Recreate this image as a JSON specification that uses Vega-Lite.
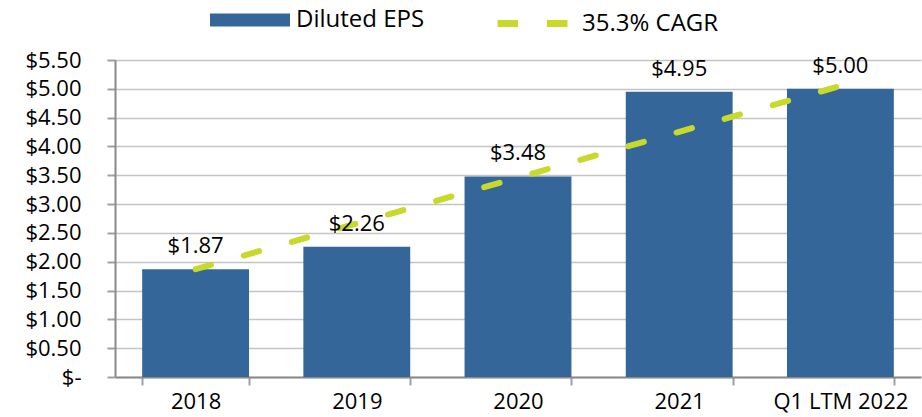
{
  "$schema": "https://vega.github.io/schema/vega-lite/v6.json",
  "width": 806,
  "height": 317,
  "autosize": "none",
  "padding": {"left": 115, "top": 60, "right": 1, "bottom": 40},
  "background": "white",
  "config": {
    "view": {"stroke": null},
    "font": "Open Sans",
    "axis": {"labelFont": "Open Sans", "labelColor": "#000000", "titleFont": "Open Sans"},
    "legend": {"labelFont": "Open Sans", "labelColor": "#000000", "padding": 0}
  },
  "datasets": {
    "eps": [
      {"period": "2018", "value": 1.87},
      {"period": "2019", "value": 2.26},
      {"period": "2020", "value": 3.48},
      {"period": "2021", "value": 4.95},
      {"period": "Q1 LTM 2022", "value": 5.00}
    ],
    "cagr": [
      {"period": "2018", "value": 1.87},
      {"period": "Q1 LTM 2022", "value": 5.05}
    ]
  },
  "encoding": {
    "x": {
      "field": "period",
      "type": "nominal",
      "sort": null,
      "scale": {"paddingInner": 0.337, "paddingOuter": 0.1685},
      "axis": {
        "title": null,
        "labelAngle": 0,
        "labelFontSize": 22,
        "labelPadding": 6,
        "domainColor": "#8a8a8a",
        "domainWidth": 2,
        "tickColor": "#a0a0a0",
        "tickWidth": 2,
        "tickSize": 8,
        "tickBand": "extent",
        "grid": false
      }
    },
    "y": {
      "field": "value",
      "type": "quantitative",
      "scale": {"domain": [0, 5.5], "nice": false},
      "axis": {
        "title": null,
        "values": [0, 0.5, 1, 1.5, 2, 2.5, 3, 3.5, 4, 4.5, 5, 5.5],
        "labelExpr": "datum.value == 0 ? '$-\u00a0\u00a0' : '$' + format(datum.value, '.2f')",
        "labelOverlap": false,
        "labelFontSize": 22,
        "labelPadding": 26,
        "domainColor": "#8a8a8a",
        "domainWidth": 2,
        "tickColor": "#a0a0a0",
        "tickWidth": 2,
        "tickSize": 8,
        "grid": true,
        "gridColor": "#c4c4c4",
        "gridWidth": 1.5
      }
    }
  },
  "layer": [
    {
      "data": {"name": "eps"},
      "mark": {"type": "bar"},
      "encoding": {
        "fill": {
          "datum": "Diluted EPS",
          "scale": {"range": ["#346699"]},
          "legend": {
            "title": null,
            "orient": "none",
            "legendX": 95,
            "legendY": -80,
            "symbolType": "M-1,-0.1625H1V0.1625H-1Z",
            "symbolSize": 6400,
            "symbolStrokeWidth": 0,
            "labelFontSize": 24,
            "labelOffset": 6
          }
        }
      }
    },
    {
      "data": {"name": "cagr"},
      "mark": {"type": "line", "strokeWidth": 6, "strokeDash": [16, 34], "strokeCap": "round"},
      "encoding": {
        "stroke": {
          "datum": "35.3% CAGR",
          "scale": {"range": ["#C9D92B"]},
          "legend": {
            "title": null,
            "orient": "none",
            "legendX": 379,
            "legendY": -75,
            "symbolType": "M-1,0H-0.41M0.41,0H1",
            "symbolSize": 4900,
            "symbolStrokeWidth": 7,
            "symbolDash": [1, 0],
            "labelFontSize": 24,
            "labelOffset": 11,
            "symbolFillColor": "transparent"
          }
        }
      }
    },
    {
      "data": {"name": "eps"},
      "mark": {"type": "text", "baseline": "bottom", "dy": -11, "fontSize": 22, "font": "Open Sans", "color": "#000000"},
      "encoding": {
        "text": {"field": "value", "type": "quantitative", "format": "$.2f"}
      }
    }
  ]
}
